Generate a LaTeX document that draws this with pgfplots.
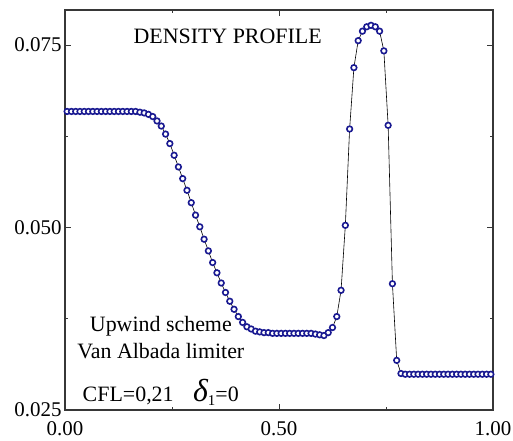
\documentclass[border=0pt]{standalone}
\usepackage{fontspec}
\setmainfont{Liberation Serif}
\usepackage{pgfplots}
\pgfplotsset{compat=1.18}
\definecolor{ringblue}{RGB}{25,25,145}
\definecolor{framegray}{RGB}{55,55,55}
\newcommand{\labfont}{\fontsize{21}{24}\selectfont}
\newcommand{\txtfont}{\fontsize{22}{25}\selectfont}
\begin{document}
\begin{tikzpicture}
\begin{axis}[
    name=ax, at={(0,0)}, anchor=south west,
    scale only axis,
    width=428bp, height=400bp,
    xmin=0, xmax=1,
    ymin=0.025, ymax=0.0798,
    xtick={0,0.5,1}, xticklabels={0.00,0.50,1.00},
    minor xtick={0.25,0.75},
    ytick={0.025,0.05,0.075}, yticklabels={0.025,0.050,0.075},
    minor ytick={0.0375,0.0625},
    tick align=inside,
    major tick length=6bp, minor tick length=3bp,
    tick style={framegray, line width=1bp},
    axis line style={framegray, line width=1.2bp},
    ticklabel style={font=\labfont},
    xticklabel style={yshift=-8bp},
    /pgf/number format/assume math mode=true,
    clip=false,
]
\addplot[black, line width=0.6bp, mark=*, mark size=2.8bp,
    mark options={draw=ringblue, fill=white, line width=1.6bp}]
coordinates {
(0.005,0.0659) (0.015,0.0659) (0.025,0.0659) (0.035,0.0659) (0.045,0.0659)
(0.055,0.0659) (0.065,0.0659) (0.075,0.0659) (0.085,0.0659) (0.095,0.0659)
(0.105,0.0659) (0.115,0.0659) (0.125,0.0659) (0.135,0.0659) (0.145,0.0659)
(0.155,0.0659) (0.165,0.0659) (0.175,0.0658) (0.185,0.0657) (0.195,0.0655)
(0.205,0.0652) (0.215,0.0646) (0.225,0.0639) (0.235,0.0628) (0.245,0.0615)
(0.255,0.0599) (0.265,0.0583) (0.275,0.0567) (0.285,0.0551) (0.295,0.0534)
(0.305,0.0517) (0.315,0.0501) (0.325,0.0484) (0.335,0.0468) (0.345,0.0452)
(0.355,0.0438) (0.365,0.0424) (0.375,0.0411) (0.385,0.0399) (0.395,0.0388)
(0.405,0.0378) (0.415,0.0370) (0.425,0.0364) (0.435,0.0361) (0.445,0.0358)
(0.455,0.0357) (0.465,0.0356) (0.475,0.0356) (0.485,0.0355) (0.495,0.0355)
(0.505,0.0355) (0.515,0.0355) (0.525,0.0355) (0.535,0.0355) (0.545,0.0355)
(0.555,0.0355) (0.565,0.0355) (0.575,0.0355) (0.585,0.0354) (0.595,0.0353)
(0.605,0.0352) (0.615,0.0356) (0.625,0.0363) (0.635,0.0378) (0.645,0.0414)
(0.655,0.0503) (0.665,0.0635) (0.675,0.0719) (0.685,0.0756) (0.695,0.0769)
(0.705,0.0775) (0.715,0.0777) (0.725,0.0775) (0.735,0.0769) (0.745,0.0742)
(0.755,0.0640) (0.765,0.0423) (0.775,0.0318) (0.785,0.0300) (0.795,0.0299)
(0.805,0.0299) (0.815,0.0299) (0.825,0.0299) (0.835,0.0299) (0.845,0.0299)
(0.855,0.0299) (0.865,0.0299) (0.875,0.0299) (0.885,0.0299) (0.895,0.0299)
(0.905,0.0299) (0.915,0.0299) (0.925,0.0299) (0.935,0.0299) (0.945,0.0299)
(0.955,0.0299) (0.965,0.0299) (0.975,0.0299) (0.985,0.0299) (0.995,0.0299)
};
\node[anchor=base, font=\txtfont, inner sep=0pt] at (axis cs:0.380,0.07523) {DENSITY PROFILE};
\node[anchor=base, font=\txtfont, inner sep=0pt] at (axis cs:0.224,0.03573) {Upwind scheme};
\node[anchor=base, font=\txtfont, inner sep=0pt] at (axis cs:0.224,0.03212) {Van Albada limiter};
\node[anchor=base west, font=\txtfont, inner sep=0pt] at (axis cs:0.041,0.0261) {CFL=0,21};
\node[anchor=base west, font=\txtfont, inner sep=0pt] at (axis cs:0.299,0.0261)
    {{\fontsize{32}{34}\selectfont\itshape δ}\raisebox{-4bp}{\fontsize{15}{16}\selectfont 1}=0};
\end{axis}
\pgfresetboundingbox
\useasboundingbox (-65bp,-31bp) rectangle (448bp,410bp);
\end{tikzpicture}
\end{document}
